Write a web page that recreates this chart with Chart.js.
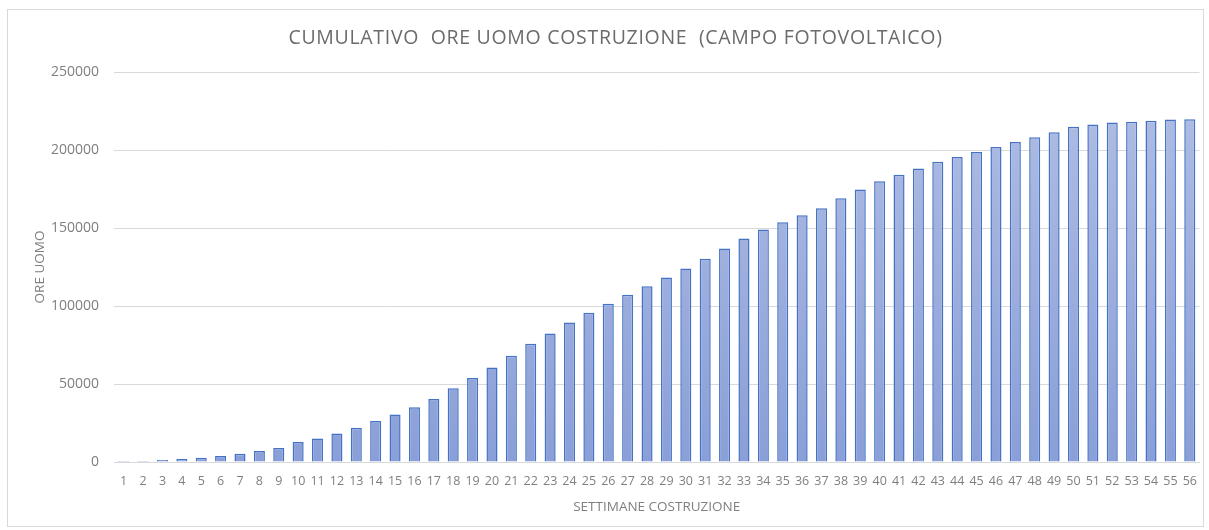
<!DOCTYPE html>
<html>
<head>
    <title>Cumulativo ore uomo costruzione</title>
    <script src="https://cdn.jsdelivr.net/npm/chart.js"></script>
    <style>
        body { margin: 0; background: #fff; }
        #frame {
            position: absolute; left: 7px; top: 9px;
            width: 1195px; height: 516px;
            border: 1px solid #d9d9d9; pointer-events: none;
        }
        canvas { position: absolute; left: 0; top: 0; }
    </style>
</head>
<body>
    <canvas id="myChart" width="1209" height="530"></canvas>
    <div id="frame"></div>

    <script>
        // settimane di costruzione (asse x)
        const settimane = [];
        for (let i = 1; i <= 56; i++) settimane.push(String(i));

        // ore uomo cumulative
        const oreUomo = [
            600, 700, 1300, 1900, 2800, 3800, 5300, 7000, 9000, 12800,
            15100, 18300, 22000, 26300, 30400, 35100, 40400, 47200, 53800, 60600,
            68100, 75800, 82400, 89500, 95700, 101500, 107200, 112600, 118300, 124100,
            130300, 136900, 143300, 149000, 153700, 158100, 162600, 169000, 174700, 179900,
            184200, 188200, 192500, 195500, 198700, 201900, 205100, 208100, 211300, 214900,
            216400, 217700, 218100, 218800, 219600, 219700
        ];

        const yMin = 0;
        const yMax = 250000;
        const yStep = 50000;

        const grey = '#7f7f7f';

        function barFill(context) {
            const chart = context.chart;
            const area = chart.chartArea;
            if (!area) return '#9cade0';
            const g = chart.ctx.createLinearGradient(0, area.top, 0, area.bottom);
            g.addColorStop(0, '#b2bfe4');
            g.addColorStop(1, '#8a9fd8');
            return g;
        }

        // titolo un po' spaziato come in Excel
        const titleSpacing = {
            id: 'titleSpacing',
            afterLayout(chart) {
                const t = chart.titleBlock;
                if (t && !t._wrapped) {
                    const draw = t.draw.bind(t);
                    t.draw = function () {
                        const c = chart.ctx;
                        const old = c.letterSpacing;
                        c.letterSpacing = '0.7px';
                        draw();
                        c.letterSpacing = old;
                    };
                    t._wrapped = true;
                }
            }
        };

        const ctx = document.getElementById('myChart').getContext('2d');
        new Chart(ctx, {
            type: 'bar',
            data: {
                labels: settimane,
                datasets: [{
                    label: 'Ore uomo',
                    data: oreUomo,
                    backgroundColor: barFill,
                    borderColor: '#4472c4',
                    borderWidth: 1.5,
                    categoryPercentage: 1,
                    barPercentage: 0.57
                }]
            },
            plugins: [titleSpacing],
            options: {
                responsive: false,
                animation: false,
                devicePixelRatio: 1,
                layout: { padding: { left: 30, right: 8, top: 10, bottom: 10 } },
                plugins: {
                    legend: { display: false },
                    tooltip: { enabled: false },
                    title: {
                        display: true,
                        text: 'CUMULATIVO  ORE UOMO COSTRUZIONE  (CAMPO FOTOVOLTAICO)',
                        color: '#6b6b6b',
                        font: { family: 'Open Sans', size: 19.5, weight: 'normal' },
                        padding: { top: 17, bottom: 21.6 }
                    }
                },
                scales: {
                    x: {
                        grid: { display: false, drawTicks: false },
                        border: { display: true, color: '#d9d9d9', width: 1 },
                        ticks: {
                            color: grey,
                            autoSkip: false,
                            maxRotation: 0,
                            padding: 12,
                            font: { family: 'Open Sans', size: 12.5 }
                        },
                        title: {
                            display: true,
                            text: 'SETTIMANE COSTRUZIONE',
                            color: grey,
                            font: { family: 'Open Sans', size: 13.5 },
                            padding: { top: 4, bottom: 5 }
                        },
                        afterFit: function (scale) { scale.height = 58; }
                    },
                    y: {
                        min: yMin,
                        max: yMax,
                        grid: { color: '#d9d9d9', lineWidth: 1, drawTicks: false },
                        border: { display: false },
                        ticks: {
                            stepSize: yStep,
                            color: grey,
                            padding: 15,
                            font: { family: 'Open Sans', size: 14 },
                            callback: v => String(v)
                        },
                        title: {
                            display: true,
                            text: 'ORE UOMO',
                            color: grey,
                            font: { family: 'Open Sans', size: 13.5 },
                            padding: { top: 2, bottom: 0 }
                        },
                        afterFit: function (scale) { scale.width = 84; }
                    }
                }
            }
        });
    </script>
</body>
</html>
